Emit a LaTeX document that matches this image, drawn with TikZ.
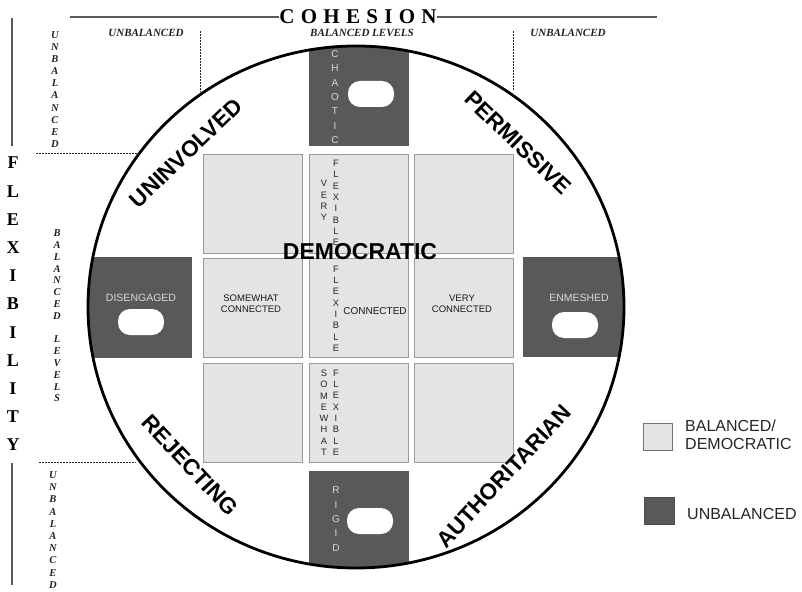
\documentclass[tikz,border=0pt]{standalone}
\usepackage{fontspec}
\setmainfont{Liberation Serif}
\setsansfont{Liberation Sans}
\definecolor{lightbox}{HTML}{E4E4E4}
\definecolor{boxedge}{HTML}{9A9A9A}
\definecolor{darkbox}{HTML}{595959}
\definecolor{darktext}{HTML}{D8D8D8}
\definecolor{axisline}{HTML}{5A5A5A}
\definecolor{inktext}{HTML}{222222}
\begin{document}
\begin{tikzpicture}[x=1pt,y=-1pt,
  litebox/.style={fill=lightbox,draw=boxedge,line width=0.9pt,minimum width=99pt,minimum height=99pt,inner sep=0pt},
  darkrect/.style={fill=darkbox,inner sep=0pt},
  pill/.style={fill=white,rounded corners=12pt,minimum width=46pt,minimum height=26pt,inner sep=0pt},
  smalltxt/.style={font=\sffamily\fontsize{9.5}{11.5}\selectfont,text=black!90,align=center,inner sep=0pt},
  vstack/.style={font=\sffamily\fontsize{9.3}{11.3}\selectfont,align=center,inner sep=0pt,text=black!85},
  darkvstack/.style={font=\sffamily\fontsize{10}{14.3}\selectfont,align=center,inner sep=0pt,text=darktext},
  darklabel/.style={font=\sffamily\fontsize{10.5}{12}\selectfont,inner sep=0pt,text=darktext},
  bigstyle/.style={font=\sffamily\bfseries\fontsize{22.5}{22.5}\selectfont,inner sep=0pt,text=black},
  axistitle/.style={font=\bfseries\fontsize{21}{21}\selectfont,inner sep=0pt,text=black},
  levellabel/.style={font=\bfseries\itshape\fontsize{11}{12}\selectfont,inner sep=0pt,text=inktext},
  vlevel/.style={font=\bfseries\itshape\fontsize{10.5}{12.1}\selectfont,align=center,inner sep=0pt,text=inktext},
  axisrule/.style={draw=axisline,line width=1.3pt},
  dashrule/.style={draw=black!85,line width=0.8pt,dash pattern=on 2pt off 1pt},
  legendtxt/.style={font=\sffamily\fontsize{16}{18}\selectfont,align=left,inner sep=0pt,text=black!85,anchor=west}
]
\useasboundingbox (0,0) rectangle (802,591);

% light balanced squares
\node[litebox] (s11) at (252.5,203.5) {};
\node[litebox] (s12) at (359,203.5) {};
\node[litebox] (s13) at (463.5,203.5) {};
\node[litebox] (s21) at (252.5,308) {};
\node[litebox] (s22) at (359,308) {};
\node[litebox] (s23) at (463.5,308) {};
\node[litebox] (s31) at (252.5,412.5) {};
\node[litebox] (s32) at (359,412.5) {};
\node[litebox] (s33) at (463.5,412.5) {};

% dark unbalanced boxes, clipped to the circle
\begin{scope}
\clip (356,307) ellipse [x radius=268pt, y radius=261pt];
\node[darkrect,minimum width=100pt,minimum height=106pt] (chaoticbox) at (359,93) {};
\node[darkrect,minimum width=100pt,minimum height=104pt] (rigidbox) at (359,523) {};
\node[darkrect,minimum width=112pt,minimum height=101pt] (disbox) at (136,307.5) {};
\node[darkrect,minimum width=110pt,minimum height=100pt] (enmbox) at (578,307) {};
\end{scope}

% pills
\node[pill] (pchaotic) at (371,94) {};
\node[pill] (pdis) at (141,322) {};
\node[pill] (penm) at (575,325) {};
\node[pill] (prigid) at (370,521) {};

% labels in dark boxes
\node[darkvstack] (tchaotic) at (335,97) {C\\H\\A\\O\\T\\I\\C};
\node[darkvstack] (trigid) at (336,519) {R\\I\\G\\I\\D};
\node[darklabel] (tdis) at (141,298) {DISENGAGED};
\node[darklabel] (tenm) at (579,298) {ENMESHED};

% labels in light squares
\node[vstack] (tvery1) at (324,200.5) {V\\E\\R\\Y};
\node[vstack] (tflex1) at (336,203) {F\\L\\E\\X\\I\\B\\L\\E};
\node[vstack] (tflex2) at (336,308.7) {F\\L\\E\\X\\I\\B\\L\\E};
\node[vstack] (tsome) at (324,412.7) {S\\O\\M\\E\\W\\H\\A\\T};
\node[vstack] (tflex3) at (336,412.7) {F\\L\\E\\X\\I\\B\\L\\E};
\node[smalltxt] (tsomecon) at (251,303.5) {SOMEWHAT\\CONNECTED};
\node[smalltxt] (tverycon) at (462,304) {VERY\\CONNECTED};
\node[smalltxt,font=\sffamily\fontsize{10}{12}\selectfont] (tcon) at (375,310.7) {CONNECTED};

\node[bigstyle,font=\sffamily\bfseries\fontsize{23}{23}\selectfont] (tdemo) at (360,252) {DEMOCRATIC};

% circle
\draw[line width=2.8pt] (356,307) ellipse [x radius=268pt, y radius=261pt];

% style labels around circle
\node[bigstyle,rotate=44] (tuninv) at (186,153) {UNINVOLVED};
\node[bigstyle,rotate=-44] (tperm) at (518,143) {PERMISSIVE};
\node[bigstyle,rotate=-47] (trej) at (190,465) {REJECTING};
\node[bigstyle,rotate=47] (tauth) at (504,476) {AUTHORITARIAN};

% cohesion axis
\node[axistitle] (tcoh) at (358,17) {C\kern6.3pt O\kern6.3pt H\kern6.3pt E\kern6.3pt S\kern6.3pt I\kern6.3pt O\kern6.3pt N};
\coordinate (cohL) at (70,17);
\coordinate (cohR) at (657,17);
\draw[axisrule] (cohL) -- (tcoh.west);
\draw[axisrule] (tcoh.east) -- (cohR);
\node[levellabel] (tunbL) at (146,33) {UNBALANCED};
\node[levellabel] (tbal) at (362,33) {BALANCED LEVELS};
\node[levellabel] (tunbR) at (568,33) {UNBALANCED};
\coordinate (dvL1) at (200,31);
\coordinate (dvL2) at (200,92);
\coordinate (dvR1) at (513,31);
\coordinate (dvR2) at (513,90);
\draw[dashrule] (dvL1) -- (dvL2);
\draw[dashrule] (dvR1) -- (dvR2);

% flexibility axis
\node[axistitle,align=center,font=\bfseries\fontsize{18}{28.2}\selectfont] (tflexaxis) at (13,304) {F\\L\\E\\X\\I\\B\\I\\L\\I\\T\\Y};
\coordinate (fxT) at (12,18);
\coordinate (fxTb) at (12,146);
\coordinate (fxB) at (12,463);
\coordinate (fxBb) at (12,585);
\draw[axisrule] (fxT) -- (fxTb);
\draw[axisrule] (fxB) -- (fxBb);
\node[vlevel] (vunbT) at (55,89.5) {U\\N\\B\\A\\L\\A\\N\\C\\E\\D};
\node[vlevel,font=\bfseries\itshape\fontsize{10.5}{11.8}\selectfont] (vbal) at (57,316) {B\\A\\L\\A\\N\\C\\E\\D\\~\\L\\E\\V\\E\\L\\S};
\node[vlevel,font=\bfseries\itshape\fontsize{10.5}{12.2}\selectfont] (vunbB) at (53,530) {U\\N\\B\\A\\L\\A\\N\\C\\E\\D};
\coordinate (dhT1) at (36,153);
\coordinate (dhT2) at (139,153);
\coordinate (dhB1) at (39,462);
\coordinate (dhB2) at (136,462);
\draw[dashrule] (dhT1) -- (dhT2);
\draw[dashrule] (dhB1) -- (dhB2);

% legend
\node[fill=lightbox,draw=black!55,line width=0.9pt,minimum width=29pt,minimum height=27pt,inner sep=0pt] (lglight) at (657.5,436.5) {};
\node[fill=darkbox,draw=black!70,line width=0.9pt,minimum width=30pt,minimum height=27pt,inner sep=0pt] (lgdark) at (659,510.5) {};
\node[legendtxt] (lgtxt1) at (685,435) {BALANCED/\\DEMOCRATIC};
\node[legendtxt] (lgtxt2) at (687,514) {UNBALANCED};
\end{tikzpicture}
\end{document}
